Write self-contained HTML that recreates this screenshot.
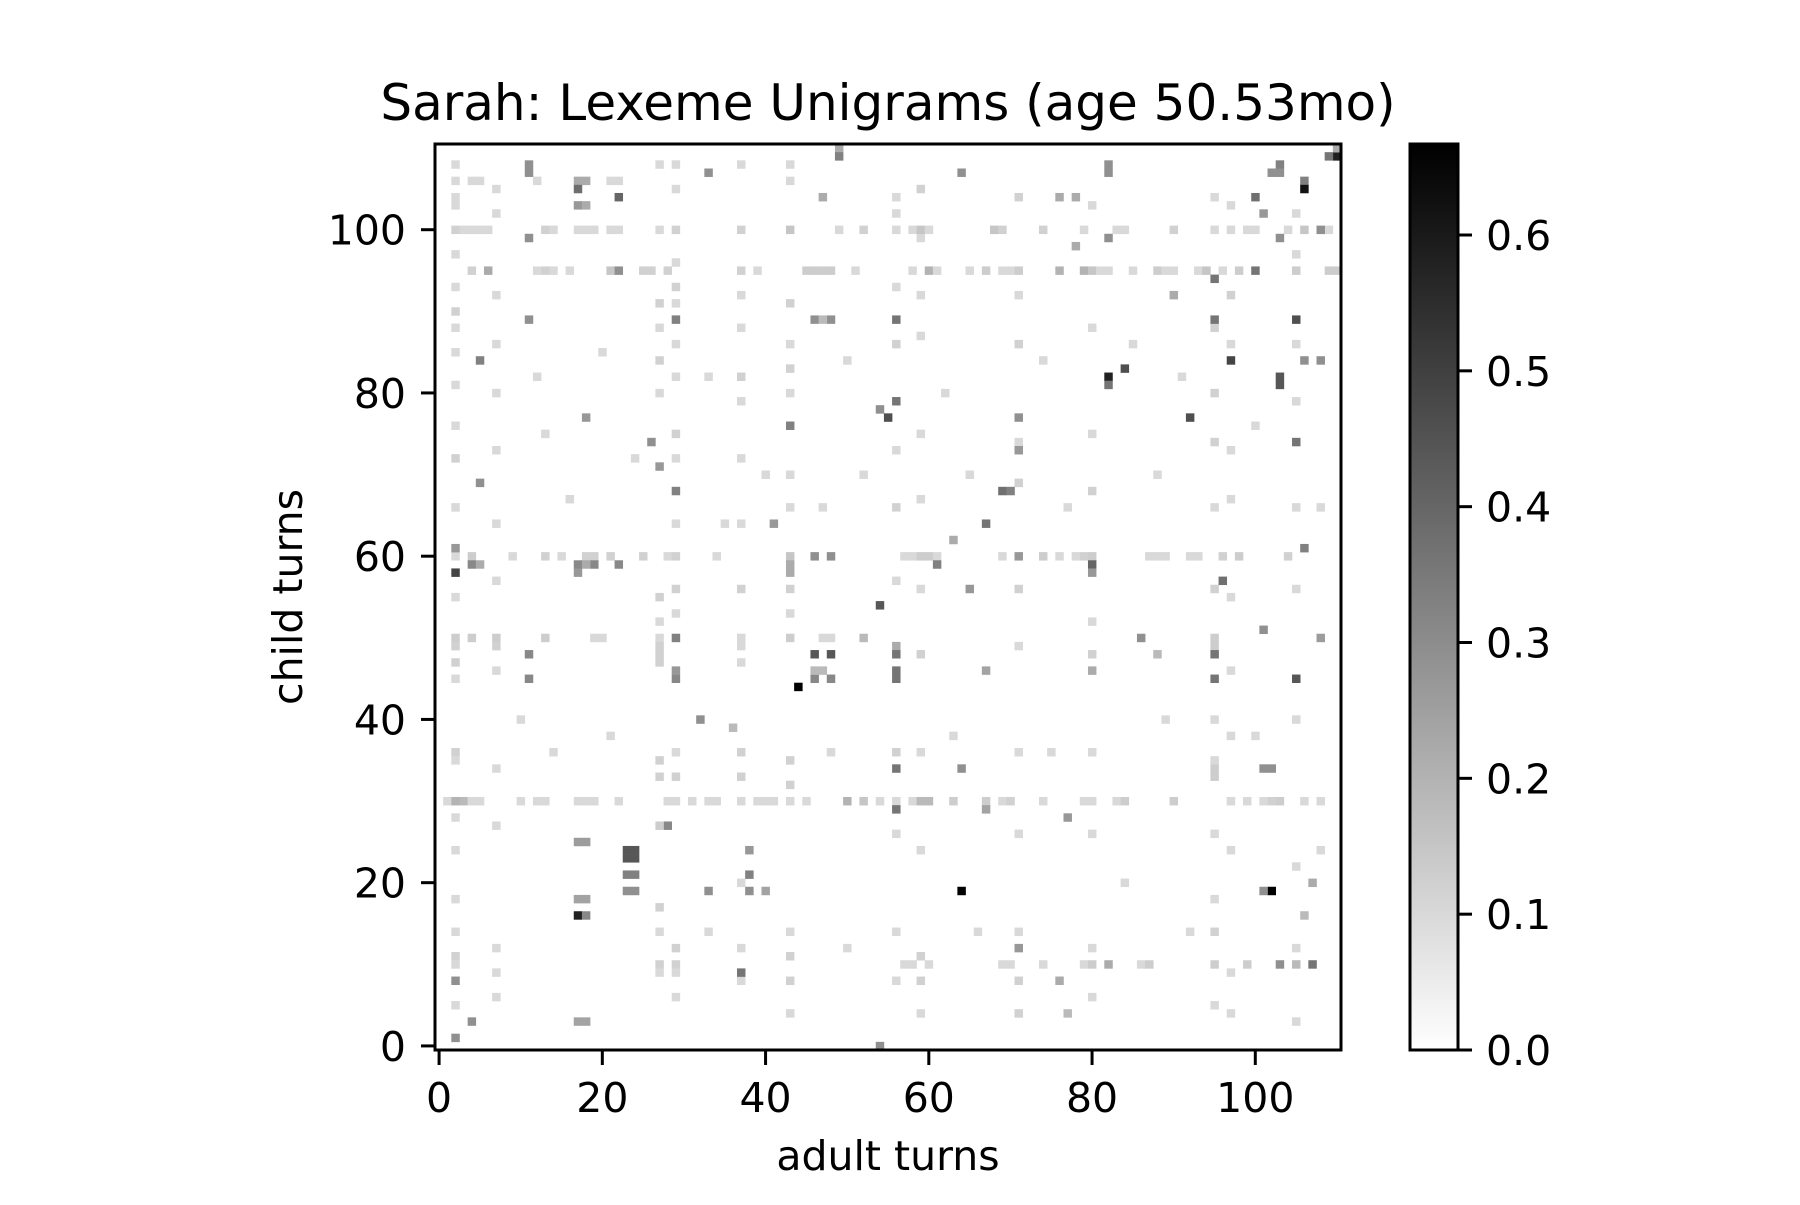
<!DOCTYPE html>
<html><head><meta charset="utf-8"><style>
html,body{margin:0;padding:0;background:#fff;}
svg text{font-family:"DejaVu Sans","Liberation Sans",sans-serif;fill:#000;}
</style></head><body>
<svg id="chart" width="1800" height="1200" viewBox="0 0 1800 1200" xmlns="http://www.w3.org/2000/svg">
<defs><linearGradient id="cbg" x1="0" y1="1" x2="0" y2="0"><stop offset="0" stop-color="#fff"/><stop offset="1" stop-color="#000"/></linearGradient></defs>
<text x="888" y="120" font-size="50" text-anchor="middle">Sarah: Lexeme Unigrams (age 50.53mo)</text>
<g id="cells"></g>
<rect x="435" y="144" width="906" height="906" fill="none" stroke="#000" stroke-width="3"/>
<g id="xticks"></g>
<g id="yticks"></g>
<text x="888" y="1170" font-size="41" text-anchor="middle">adult turns</text>
<text x="302" y="597" font-size="41" text-anchor="middle" transform="rotate(-90 302 597)">child turns</text>
<rect x="1410" y="144" width="48" height="906" fill="url(#cbg)" stroke="#000" stroke-width="3"/>
<g id="cbticks"></g>
</svg>
<script>
const xTicks = [0,20,40,60,80,100];
const yTicks = [0,20,40,60,80,100];
const cbTicks = ["0.0","0.1","0.2","0.3","0.4","0.5","0.6"];
const vMax = 0.667;
const darkCells = [
[54,54,.44],[44,44,.667],[46,48,.44],[48,48,.44],[46,45,.31],[48,45,.31],[46,46,.18],[47,46,.18],[29,50,.33],[29,45,.31],[29,46,.27],[11,48,.31],[11,45,.31],[32,40,.29],[36,39,.18],[23,24,.44],[24,24,.44],[23,23,.44],[24,23,.44],[23,21,.33],[24,21,.33],[23,19,.29],[24,19,.29],[38,24,.27],[38,21,.33],[38,19,.29],[40,19,.24],[33,19,.29],[17,16,.58],[18,16,.31],[17,18,.24],[18,18,.24],[28,27,.31],[27,27,.13],[17,25,.26],[18,25,.26],[37,9,.36],[2,8,.29],[2,1,.29],[4,3,.29],[17,3,.24],[18,3,.24],[54,0,.29],
[64,19,.667],[102,19,.667],[101,19,.29],[101,51,.29],[108,50,.26],[86,50,.29],[56,49,.22],[56,48,.36],[95,48,.36],[88,48,.18],[56,46,.36],[56,45,.36],[67,46,.24],[95,45,.36],[105,45,.44],[80,46,.22],[56,34,.36],[64,34,.29],[101,34,.29],[102,34,.29],[56,29,.36],[67,29,.24],[77,28,.27],[71,12,.27],[82,10,.22],[103,10,.29],[107,10,.36],[105,10,.18],[76,8,.22],[77,4,.18],[107,20,.22],[106,16,.18],
[49,110,.22],[49,109,.33],[11,108,.29],[11,107,.29],[33,107,.29],[17,106,.22],[18,106,.22],[17,105,.38],[22,104,.40],[17,103,.27],[18,103,.22],[47,104,.22],[11,99,.29],[6,95,.22],[22,95,.29],[29,89,.33],[11,89,.29],[46,89,.29],[48,89,.29],[47,89,.18],[5,84,.33],[54,78,.29],[55,77,.46],[18,77,.27],[43,76,.33],[26,74,.29],[27,71,.27],[5,69,.29],[29,68,.33],[41,64,.27],[2,61,.27],[46,60,.29],[48,60,.29],[4,59,.31],[5,59,.22],[17,59,.31],[19,59,.31],[22,59,.31],[18,59,.22],[2,58,.49],[17,58,.27],[43,59,.22],[43,58,.22],
[110,109,.58],[110,110,.22],[109,109,.36],[64,107,.29],[82,108,.29],[82,107,.29],[103,108,.33],[102,107,.29],[103,107,.29],[106,106,.33],[106,105,.62],[100,104,.375],[101,102,.27],[76,104,.22],[78,104,.22],[82,99,.29],[103,99,.29],[108,100,.29],[78,98,.22],[100,95,.36],[95,94,.36],[90,92,.22],[105,89,.46],[95,89,.36],[56,89,.36],[97,84,.49],[106,84,.29],[108,84,.29],[82,82,.58],[84,83,.46],[82,81,.36],[103,82,.44],[103,81,.44],[56,79,.36],[92,77,.46],[71,77,.29],[105,74,.36],[71,73,.27],[69,68,.375],[70,68,.33],[67,64,.36],[63,62,.22],[106,61,.33],[71,60,.27],[61,59,.33],[80,59,.40],[80,58,.27],[96,57,.375],[65,56,.27]
];
const lightCells = [
[2,108,.1],[27,108,.1],[29,108,.1],[37,108,.1],[43,108,.1],[2,106,.1],[4,106,.1],[5,106,.1],[12,106,.1],[21,106,.1],[22,106,.1],[43,106,.1],
[2,100,.12],[3,100,.1],[4,100,.1],[5,100,.1],[6,100,.1],[13,100,.12],[14,100,.1],[17,100,.1],[18,100,.1],[19,100,.1],[21,100,.1],[22,100,.1],[27,100,.1],[29,100,.12],[37,100,.12],[43,100,.15],[49,100,.1],[52,100,.12],
[4,95,.12],[12,95,.1],[13,95,.12],[14,95,.1],[16,95,.1],[21,95,.15],[25,95,.12],[26,95,.12],[28,95,.12],[37,95,.12],[39,95,.1],[45,95,.13],[46,95,.13],[47,95,.13],[48,95,.13],[51,95,.1],
[2,60,.1],[4,60,.13],[9,60,.1],[13,60,.12],[15,60,.1],[18,60,.12],[19,60,.12],[21,60,.12],[25,60,.12],[28,60,.1],[29,60,.12],[34,60,.1],[43,60,.15],
[56,100,.1],[58,100,.1],[59,100,.15],[60,100,.1],[68,100,.15],[69,100,.12],[74,100,.12],[79,100,.1],[83,100,.1],[84,100,.1],[90,100,.12],[95,100,.1],[97,100,.1],[99,100,.1],[100,100,.1],[104,100,.1],[106,100,.15],[109,100,.1],
[58,95,.1],[60,95,.2],[61,95,.1],[65,95,.1],[67,95,.13],[69,95,.1],[70,95,.1],[71,95,.13],[76,95,.2],[79,95,.2],[80,95,.15],[81,95,.1],[82,95,.1],[85,95,.1],[88,95,.13],[89,95,.1],[90,95,.1],[93,95,.1],[94,95,.15],[96,95,.1],[98,95,.13],[105,95,.13],[109,95,.13],[110,95,.13],
[57,60,.1],[58,60,.1],[59,60,.13],[60,60,.13],[61,60,.1],[69,60,.1],[74,60,.13],[76,60,.1],[78,60,.1],[79,60,.12],[80,60,.13],[87,60,.1],[88,60,.1],[89,60,.1],[92,60,.1],[93,60,.1],[96,60,.12],[98,60,.13],[104,60,.12],
[56,30,.1],[58,30,.1],[59,30,.18],[60,30,.18],[63,30,.13],[67,30,.13],[69,30,.1],[70,30,.12],[74,30,.1],[79,30,.1],[80,30,.1],[83,30,.1],[84,30,.13],[90,30,.13],[97,30,.1],[99,30,.1],[101,30,.1],[102,30,.12],[103,30,.13],[106,30,.1],[108,30,.1],
[57,10,.1],[58,10,.1],[60,10,.1],[69,10,.1],[70,10,.1],[74,10,.1],[79,10,.1],[80,10,.13],[86,10,.1],[87,10,.13],[95,10,.13],[99,10,.13],[95,33,.13],[95,34,.13],[95,35,.1],[95,49,.13],[95,50,.13],
[1,30,.1],[2,30,.2],[3,30,.18],[4,30,.1],[5,30,.1],[10,30,.1],[12,30,.1],[13,30,.1],[17,30,.1],[18,30,.1],[19,30,.1],[22,30,.1],[28,30,.1],[29,30,.1],[31,30,.1],[33,30,.1],[34,30,.1],[37,30,.1],[39,30,.1],[40,30,.1],[41,30,.1],[43,30,.1],[45,30,.1],[50,30,.2],[52,30,.15],[54,30,.1],
[2,50,.13],[4,50,.13],[7,50,.13],[13,50,.13],[19,50,.1],[20,50,.1],[27,50,.1],[37,50,.1],[43,50,.13],[47,50,.1],[48,50,.1],[52,50,.18],
[2,49,.12],[2,47,.12],[7,49,.12],[27,49,.12],[27,47,.12],[27,48,.12],[37,49,.1],[37,47,.1]
];
const streakCells = [
[2,104,.1],[2,103,.1],[2,97,.1],[2,93,.1],[2,90,.12],[2,88,.1],[2,85,.1],[2,81,.1],[2,76,.1],[2,72,.12],[2,66,.1],[2,55,.1],[2,45,.1],[2,36,.12],[2,35,.1],[2,28,.1],[2,24,.1],[2,18,.1],[2,14,.1],[2,11,.12],[2,10,.1],[2,5,.1],
[7,105,.1],[7,102,.1],[7,92,.1],[7,86,.1],[7,80,.1],[7,73,.1],[7,64,.1],[7,57,.1],[7,46,.1],[7,34,.1],[7,27,.1],[7,12,.1],[7,9,.1],[7,6,.1],
[29,105,.1],[29,96,.1],[29,93,.12],[29,91,.1],[29,86,.1],[29,82,.1],[29,75,.12],[29,72,.1],[29,64,.1],[29,56,.12],[29,53,.1],[29,36,.1],[29,33,.12],[29,12,.12],[29,10,.12],[29,9,.1],[29,6,.1],
[27,91,.12],[27,88,.1],[27,84,.12],[27,80,.1],[27,55,.12],[27,52,.1],[27,35,.12],[27,33,.12],[27,17,.12],[27,14,.1],[27,10,.12],[27,9,.1],
[37,92,.1],[37,88,.1],[37,82,.12],[37,79,.1],[37,72,.1],[37,64,.1],[37,56,.12],[37,36,.12],[37,33,.12],[37,20,.1],[37,12,.1],[37,8,.1],
[43,91,.12],[43,86,.1],[43,83,.12],[43,80,.1],[43,70,.1],[43,66,.1],[43,56,.12],[43,53,.1],[43,35,.12],[43,32,.12],[43,14,.1],[43,11,.12],[43,8,.12],[43,4,.1],
[56,104,.1],[56,102,.1],[56,93,.1],[56,86,.12],[56,73,.1],[56,66,.12],[56,57,.1],[56,36,.12],[56,26,.1],[56,14,.1],[56,8,.1],
[59,105,.12],[59,99,.1],[59,92,.1],[59,87,.1],[59,75,.1],[59,67,.1],[59,56,.1],[59,48,.12],[59,36,.1],[59,24,.1],[59,11,.12],[59,8,.12],[59,4,.1],
[71,104,.12],[71,92,.1],[71,86,.12],[71,74,.1],[71,69,.12],[71,56,.12],[71,49,.1],[71,36,.1],[71,26,.1],[71,14,.1],[71,8,.12],[71,4,.12],
[80,103,.1],[80,88,.1],[80,75,.1],[80,68,.12],[80,52,.1],[80,48,.12],[80,36,.1],[80,26,.1],[80,12,.1],[80,6,.1],
[95,104,.1],[95,88,.12],[95,80,.12],[95,74,.12],[95,66,.1],[95,56,.12],[95,40,.1],[95,26,.1],[95,18,.1],[95,14,.12],[95,5,.1],
[97,103,.1],[97,92,.12],[97,86,.1],[97,73,.1],[97,67,.1],[97,55,.1],[97,46,.1],[97,38,.1],[97,24,.1],[97,9,.1],[97,4,.1],
[105,102,.1],[105,97,.1],[105,86,.1],[105,79,.1],[105,66,.1],[105,56,.1],[105,40,.1],[105,22,.1],[105,12,.1],[105,3,.1],
[12,82,.1],[13,75,.1],[16,67,.1],[20,85,.1],[24,72,.1],[33,82,.1],[35,64,.1],[40,70,.1],[47,66,.1],[50,84,.1],[52,70,.1],[62,80,.1],[65,70,.1],[74,84,.1],[77,66,.1],[85,86,.1],[88,70,.1],[91,82,.1],[100,76,.1],[108,66,.1],
[10,40,.1],[14,36,.1],[21,38,.1],[33,14,.1],[48,36,.1],[50,12,.1],[63,38,.1],[66,14,.1],[75,36,.1],[84,20,.1],[89,40,.1],[92,14,.1],[100,38,.1],[108,24,.1]
];
const PL=435, PT=144, PS=906, N=111;
const cw = PS/N;
function X(v){return PL + (v+0.5)*cw;}
function Y(v){return PT + PS - (v+0.5)*cw;}
function shade(v){const g=Math.round(255*(1-Math.min(v,vMax)/vMax));return `rgb(${g},${g},${g})`;}
const NS="http://www.w3.org/2000/svg";
const cellsG=document.getElementById('cells');
function drawCell(c){
  const r=document.createElementNS(NS,'rect');
  
  
  r.setAttribute('x',(X(c[0])-cw/2).toFixed(2));
  r.setAttribute('y',(Y(c[1])-cw/2).toFixed(2));
  r.setAttribute('width',(cw+0.3).toFixed(2));
  r.setAttribute('height',(cw+0.3).toFixed(2));
  r.setAttribute('fill',shade(c[2]));
  cellsG.appendChild(r);
}
streakCells.forEach(drawCell);
lightCells.forEach(drawCell);
darkCells.forEach(drawCell);
const xg=document.getElementById('xticks');
xTicks.forEach(t=>{
  const l=document.createElementNS(NS,'line');
  
  
  l.setAttribute('x1',X(t));l.setAttribute('x2',X(t));l.setAttribute('y1',1050);l.setAttribute('y2',1065);
  l.setAttribute('stroke','#000');l.setAttribute('stroke-width','3');
  xg.appendChild(l);
  const tx=document.createElementNS(NS,'text');
  
  
  tx.setAttribute('x',X(t));tx.setAttribute('y',1112);tx.setAttribute('font-size','41');tx.setAttribute('text-anchor','middle');
  tx.textContent=t;
  xg.appendChild(tx);
});
const yg=document.getElementById('yticks');
yTicks.forEach(t=>{
  const l=document.createElementNS(NS,'line');
  
  
  l.setAttribute('x1',421);l.setAttribute('x2',435);l.setAttribute('y1',Y(t));l.setAttribute('y2',Y(t));
  l.setAttribute('stroke','#000');l.setAttribute('stroke-width','3');
  yg.appendChild(l);
  const tx=document.createElementNS(NS,'text');
  
  
  tx.setAttribute('x',406);tx.setAttribute('y',Y(t)+15);tx.setAttribute('font-size','41');tx.setAttribute('text-anchor','end');
  tx.textContent=t;
  yg.appendChild(tx);
});
const cg=document.getElementById('cbticks');
cbTicks.forEach(s=>{
  const v=parseFloat(s);
  const y=1050 - v/vMax*906;
  const l=document.createElementNS(NS,'line');
  
  
  l.setAttribute('x1',1458);l.setAttribute('x2',1472);l.setAttribute('y1',y);l.setAttribute('y2',y);
  l.setAttribute('stroke','#000');l.setAttribute('stroke-width','3');
  cg.appendChild(l);
  const tx=document.createElementNS(NS,'text');
  
  
  tx.setAttribute('x',1486);tx.setAttribute('y',y+15);tx.setAttribute('font-size','41');
  tx.textContent=s;
  cg.appendChild(tx);
});
</script>
</body></html>
